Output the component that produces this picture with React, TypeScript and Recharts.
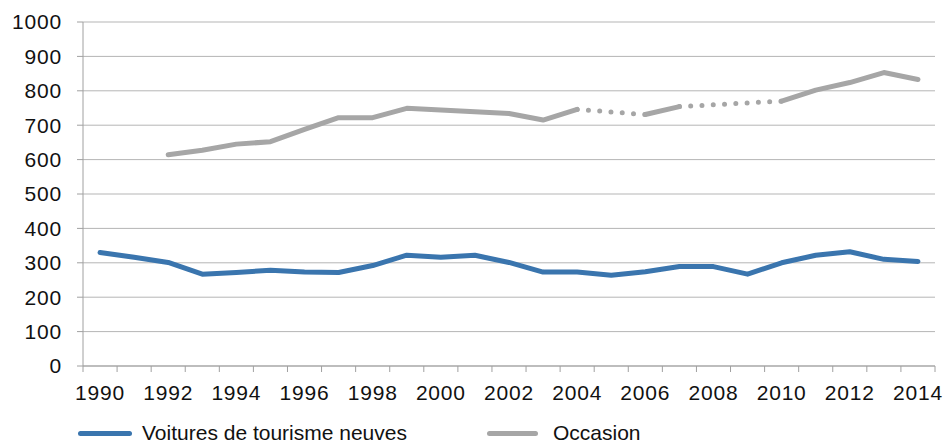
import React from 'react';
import { LineChart, Line, XAxis, YAxis, CartesianGrid } from 'recharts';

const years = [1990, 1991, 1992, 1993, 1994, 1995, 1996, 1997, 1998, 1999, 2000, 2001, 2002, 2003, 2004, 2005, 2006, 2007, 2008, 2009, 2010, 2011, 2012, 2013, 2014];
const neuves = [330, 316, 301, 267, 272, 278, 273, 272, 292, 322, 316, 322, 301, 273, 273, 264, 274, 289, 289, 267, 300, 322, 332, 310, 304];
const occasion: (number | null)[] = [null, null, 614, 627, 645, 652, 688, 722, 722, 749, 744, 739, 734, 715, 746, null, 731, 754, null, null, 770, 802, 824, 853, 833];
const yTicks = [0, 100, 200, 300, 400, 500, 600, 700, 800, 900, 1000];
const labelYears = [1990, 1992, 1994, 1996, 1998, 2000, 2002, 2004, 2006, 2008, 2010, 2012, 2014];
const seriesNames = ['Voitures de tourisme neuves', 'Occasion'];

const BLUE = '#3A75AE';
const GRAY = '#A6A6A6';
const AXIS = '#A0A0A0';
const FONT = '"Liberation Sans", Arial, sans-serif';

// bridge series: keep only the ends of each null gap inside the occasion series
function buildBridges(vals: (number | null)[]) {
  const bridges: (number | null)[][] = [];
  let lastIdx = -1;
  for (let i = 0; i < vals.length; i++) {
    if (vals[i] != null) {
      if (lastIdx >= 0 && i - lastIdx > 1) {
        const b: (number | null)[] = vals.map(() => null);
        b[lastIdx] = vals[lastIdx];
        b[i] = vals[i];
        bridges.push(b);
      }
      lastIdx = i;
    }
  }
  return bridges;
}
const bridges = buildBridges(occasion);

const data = years.map((y, i) => {
  const row: any = { year: y, neuves: neuves[i], occasion: occasion[i] };
  bridges.forEach((b, k) => { row['gap' + k] = b[i]; });
  return row;
});

const boundaries = years.map((y) => y - 0.5).concat([years[years.length - 1] + 0.5]);
const xTicks = [...boundaries, ...labelYears].sort((a, b) => a - b);

const XTick = (props: any) => {
  const { x, y, payload } = props;
  const v = payload.value;
  if (Math.abs(v - Math.round(v)) > 0.01) {
    return <line x1={x} x2={x} y1={y} y2={y + 6} stroke={AXIS} strokeWidth={1} />;
  }
  return (
    <text x={x} y={y + 34} textAnchor="middle" fill="#111" fontSize={21} letterSpacing={0.8} fontFamily={FONT}>
      {v}
    </text>
  );
};

export default function App() {
  return (
    <div style={{ position: 'absolute', left: 0, top: 0, width: 946, height: 445, background: '#fff' }}>
      <LineChart width={946} height={445} data={data} margin={{ top: 22, right: 11, bottom: 0, left: 0 }}>
        <CartesianGrid vertical={false} stroke="#B5B5B5" strokeWidth={1} />
        <XAxis
          dataKey="year"
          type="number"
          domain={[1989.5, 2014.5]}
          ticks={xTicks}
          interval={0}
          tickLine={false}
          tickSize={0}
          tickMargin={0}
          height={79}
          axisLine={{ stroke: AXIS, strokeWidth: 1 }}
          tick={<XTick />}
        />
        <YAxis
          domain={[0, 1000]}
          ticks={yTicks}
          interval={0}
          width={83}
          tickSize={6}
          tickMargin={15}
          axisLine={{ stroke: AXIS, strokeWidth: 1 }}
          tickLine={{ stroke: AXIS, strokeWidth: 1 }}
          tick={{ fill: '#111', fontSize: 21, fontFamily: FONT, letterSpacing: 0.8 }}
        />
        {bridges.map((_, k) => (
          <Line
            key={'gap' + k}
            dataKey={'gap' + k}
            stroke={GRAY}
            strokeWidth={5}
            strokeDasharray="0 11.3"
            strokeLinecap="round"
            connectNulls
            dot={false}
            activeDot={false}
            isAnimationActive={false}
            type="linear"
            legendType="none"
          />
        ))}
        <Line dataKey="neuves" name={seriesNames[0]} stroke={BLUE} strokeWidth={5} strokeLinejoin="round" strokeLinecap="round" dot={false} activeDot={false} isAnimationActive={false} type="linear" />
        <Line dataKey="occasion" name={seriesNames[1]} stroke={GRAY} strokeWidth={5} strokeLinejoin="round" strokeLinecap="round" dot={false} activeDot={false} isAnimationActive={false} type="linear" connectNulls={false} />
      </LineChart>
      <div style={{ position: 'absolute', left: 78, top: 431, width: 54, height: 5, borderRadius: 3, background: BLUE }} />
      <div style={{ position: 'absolute', left: 142, top: 421, fontFamily: FONT, fontSize: 21, lineHeight: '24px', color: '#111', whiteSpace: 'nowrap' }}>{seriesNames[0]}</div>
      <div style={{ position: 'absolute', left: 487, top: 431, width: 51, height: 5, borderRadius: 3, background: GRAY }} />
      <div style={{ position: 'absolute', left: 553, top: 421, fontFamily: FONT, fontSize: 21, lineHeight: '24px', color: '#111', whiteSpace: 'nowrap' }}>{seriesNames[1]}</div>
    </div>
  );
}
